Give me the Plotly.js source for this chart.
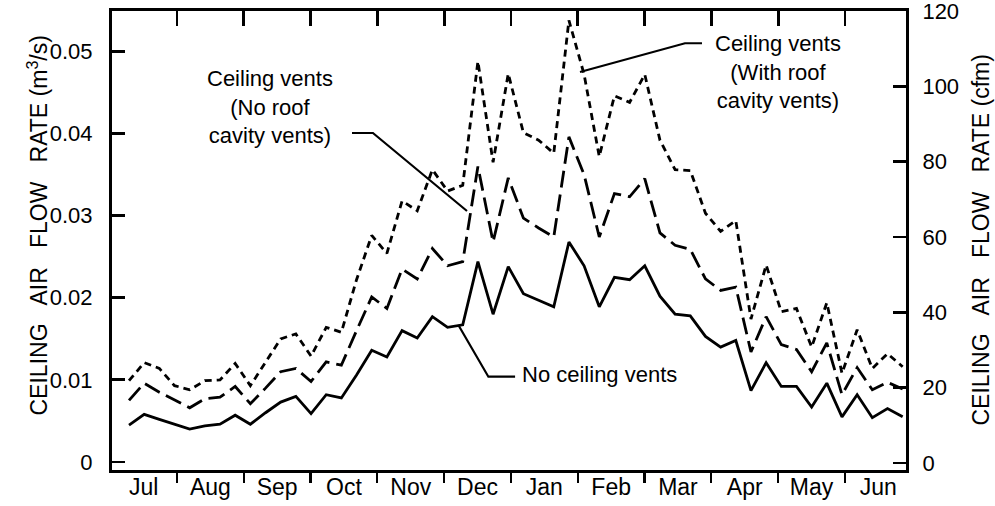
<!DOCTYPE html>
<html>
<head>
<meta charset="utf-8">
<script src="https://cdn.plot.ly/plotly-3.0.1.min.js"></script>
<style>
html,body{margin:0;padding:0;background:#fff;}
#chart{width:995px;height:506px;}
</style>
</head>
<body>
<div id="chart"></div>
<script>
// Weekly samples through the year (week number, Jul -> Jun)
const week = [1,2,3,4,5,6,7,8,9,10,11,12,13,14,15,16,17,18,19,20,21,22,23,24,25,26,
              27,28,29,30,31,32,33,34,35,36,37,38,39,40,41,42,43,44,45,46,47,48,49,50,51,52];

// Ceiling air flow rate, m^3/s
const noCeilingVents = [0.0045,0.0058,0.0052,0.0046,0.0040,0.0044,0.0046,0.0057,0.0046,0.0060,
  0.0073,0.0080,0.0059,0.0082,0.0078,0.0106,0.0136,0.0128,0.0160,0.0151,
  0.0177,0.0164,0.0167,0.0244,0.0180,0.0238,0.0205,0.0197,0.0189,0.0268,
  0.0239,0.0189,0.0225,0.0222,0.0239,0.0202,0.0180,0.0178,0.0153,0.0140,
  0.0148,0.0087,0.0121,0.0092,0.0092,0.0067,0.0096,0.0055,0.0082,0.0054,
  0.0065,0.0055];

const ventsNoRoof = [0.0075,0.0096,0.0085,0.0076,0.0066,0.0077,0.0079,0.0092,0.0071,0.0090,
  0.0110,0.0114,0.0098,0.0122,0.0118,0.0160,0.0201,0.0187,0.0235,0.0223,
  0.0260,0.0239,0.0244,0.0360,0.0268,0.0346,0.0297,0.0285,0.0274,0.0396,
  0.0350,0.0274,0.0327,0.0323,0.0345,0.0279,0.0264,0.0259,0.0223,0.0209,
  0.0213,0.0134,0.0177,0.0143,0.0137,0.0110,0.0145,0.0082,0.0115,0.0088,
  0.0097,0.0089];

const ventsWithRoof = [0.0099,0.0121,0.0114,0.0093,0.0088,0.0099,0.0100,0.0120,0.0093,0.0122,
  0.0150,0.0156,0.0129,0.0164,0.0158,0.0222,0.0276,0.0254,0.0318,0.0306,
  0.0356,0.0330,0.0337,0.0488,0.0365,0.0473,0.0401,0.0392,0.0376,0.0538,
  0.0472,0.0372,0.0446,0.0438,0.0472,0.0392,0.0356,0.0355,0.0303,0.0281,
  0.0294,0.0174,0.0240,0.0183,0.0187,0.0140,0.0194,0.0108,0.0161,0.0114,
  0.0132,0.0116];

const months = ['Jul','Aug','Sep','Oct','Nov','Dec','Jan','Feb','Mar','Apr','May','Jun'];
const monthCenters = [0.5,1.5,2.5,3.5,4.5,5.5,6.5,7.5,8.5,9.5,10.5,11.5];
const monthBounds = [1,2,3,4,5,6,7,8,9,10,11];
const leftTicks = [0,0.01,0.02,0.03,0.04,0.05];
const leftTickText = ['0','0.01','0.02','0.03','0.04','0.05'];
const rightTicks = [0,20,40,60,80,100,120];

const FONT = 'Liberation Sans, Arial, Helvetica, sans-serif';
const LW = 2.8;

const traces = [
  {x: week, y: noCeilingVents, type:'scatter', mode:'lines', xaxis:'x', yaxis:'y',
   line:{color:'#000', width:LW}, hoverinfo:'skip', showlegend:false},
  {x: week, y: ventsNoRoof, type:'scatter', mode:'lines', xaxis:'x', yaxis:'y',
   line:{color:'#000', width:LW, dash:'17px,7px'}, hoverinfo:'skip', showlegend:false},
  {x: week, y: ventsWithRoof, type:'scatter', mode:'lines', xaxis:'x', yaxis:'y',
   line:{color:'#000', width:LW, dash:'7px,5px'}, hoverinfo:'skip', showlegend:false},
  // empty traces so the overlay axes are drawn
  {x:[1], y:[0], xaxis:'x2', yaxis:'y', mode:'none', hoverinfo:'skip', showlegend:false},
  {x:[1], y:[0], xaxis:'x3', yaxis:'y', mode:'none', hoverinfo:'skip', showlegend:false},
  {x:[1], y:[0], xaxis:'x4', yaxis:'y', mode:'none', hoverinfo:'skip', showlegend:false},
  {x:[1], y:[0], xaxis:'x', yaxis:'y2', mode:'none', hoverinfo:'skip', showlegend:false}
];

const monthRange = [0.027, 11.914];
const SP = ' \u00A0 ';

function txt(x, y, s, anchor) {
  return {xref:'x', yref:'y', x:x, y:y, xanchor:anchor || 'center', yanchor:'middle',
          showarrow:false, align:'center', text:s, font:{size:22}};
}

const layout = {
  width:995, height:506,
  margin:{l:112, r:89, t:11, b:36, pad:0},
  paper_bgcolor:'#fff', plot_bgcolor:'#fff',
  font:{family:FONT, size:22, color:'#000'},
  showlegend:false,
  xaxis:{range:[-0.121, 52.22], showgrid:false, zeroline:false, showticklabels:false,
         ticks:'', showline:true, mirror:true, linecolor:'#000', linewidth:3},
  xaxis2:{overlaying:'x', anchor:'y', side:'bottom', range:monthRange, showgrid:false, zeroline:false,
          tickmode:'array', tickvals:monthCenters, ticktext:months, ticks:'', showline:false,
          tickfont:{size:23}, ticklabelstandoff:1},
  xaxis3:{overlaying:'x', anchor:'y', side:'top', range:monthRange, showgrid:false, zeroline:false,
          tickmode:'array', tickvals:monthBounds, ticks:'inside', ticklen:15, tickwidth:2.8,
          tickcolor:'#000', showticklabels:false, showline:false},
  xaxis4:{overlaying:'x', anchor:'y', side:'bottom', range:monthRange, showgrid:false, zeroline:false,
          tickmode:'array', tickvals:monthBounds, ticks:'outside', ticklen:12, tickwidth:2.2,
          tickcolor:'#000', showticklabels:false, showline:false},
  yaxis:{range:[-0.000974, 0.05493], showgrid:false, zeroline:false,
         tickmode:'array', tickvals:leftTicks, ticktext:leftTickText,
         ticks:'inside', ticklen:13, tickwidth:2.8, tickcolor:'#000',
         showline:true, mirror:true, linecolor:'#000', linewidth:3,
         ticklabelstandoff:12, tickfont:{size:22}},
  yaxis2:{overlaying:'y', side:'right', anchor:'x', range:[-1.86, 120], showgrid:false, zeroline:false,
          tickmode:'array', tickvals:rightTicks, ticks:'inside', ticklen:13, tickwidth:2.8,
          tickcolor:'#000', showline:true, linecolor:'#000', linewidth:3, ticklabelstandoff:9,
          tickfont:{size:22}, ticklabeloverflow:'allow'},
  annotations:[
    {xref:'paper', yref:'paper', x:0, y:0.5, xanchor:'center', yanchor:'middle',
     xshift:-75, yshift:15, textangle:-90, showarrow:false,
     text:'CEILING'+SP+'AIR'+SP+'FLOW'+SP+'RATE (m<sup>3</sup>/s)', font:{size:23}},
    {xref:'paper', yref:'paper', x:1, y:0.5, xanchor:'center', yanchor:'middle',
     xshift:74, yshift:0, textangle:-90, showarrow:false,
     text:'CEILING'+SP+'AIR'+SP+'FLOW'+SP+'RATE (cfm)', font:{size:23}},
    txt(10.29, 0.04324, 'Ceiling vents<br>(No roof<br>cavity vents)'),
    txt(43.78, 0.04750, 'Ceiling vents<br>(With roof<br>cavity vents)'),
    txt(26.77, 0.0106, 'No ceiling vents', 'left')
  ],
  shapes:[
    {type:'path', xref:'x', yref:'y', path:'M15.70,0.04007 L17.08,0.04007 L23.28,0.03057',
     line:{color:'#000', width:2.2}},
    {type:'path', xref:'x', yref:'y', path:'M30.73,0.0475 L37.65,0.0510 L38.77,0.0510',
     line:{color:'#000', width:2.2}},
    {type:'path', xref:'x', yref:'y', path:'M22.71,0.01669 L24.69,0.01039 L26.45,0.01039',
     line:{color:'#000', width:2.2}}
  ]
};

Plotly.newPlot('chart', traces, layout, {staticPlot:true, displayModeBar:false});
</script>
</body>
</html>
